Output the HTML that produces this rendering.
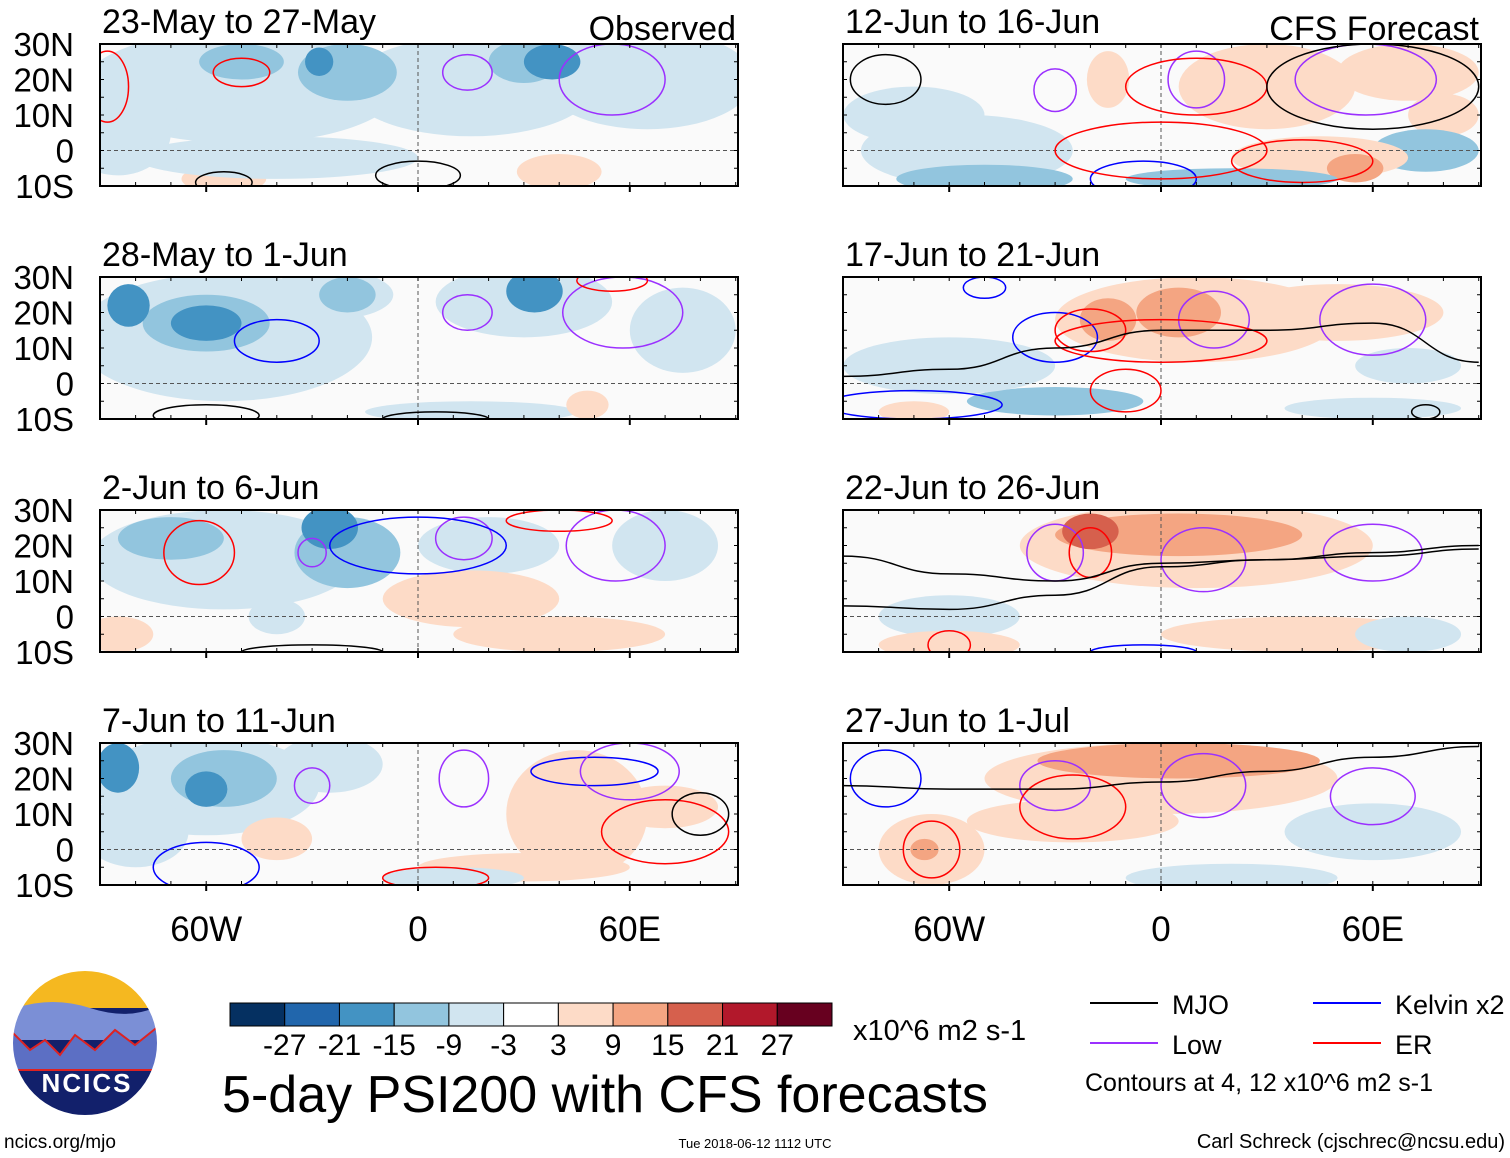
<!DOCTYPE html>
<html><head><meta charset="utf-8"><style>
body{margin:0;background:#fff;font-family:"Liberation Sans",sans-serif}
svg{display:block}
</style></head><body>
<svg id="fig" width="1510" height="1158" viewBox="0 0 1510 1158" xmlns="http://www.w3.org/2000/svg">
<defs id="defs"></defs>
<g id="panels"></g>
<g id="legend"></g>
</svg>
<script>
const panelTitles = ["23-May to 27-May","28-May to 1-Jun","2-Jun to 6-Jun","7-Jun to 11-Jun","12-Jun to 16-Jun","17-Jun to 21-Jun","22-Jun to 26-Jun","27-Jun to 1-Jul"];
const latTicks = ["30N","20N","10N","0","10S"];
const latTickVals = [30,20,10,0,-10];
const lonTicks = ["60W","0","60E"];
const lonTickVals = [-60,0,60];
const levelColors = ["#053061","#2166ac","#4393c3","#92c5de","#d1e5f0","#ffffff","#fddbc7","#f4a582","#d6604d","#b2182b","#67001f"];
const cbarLabels = ["-27","-21","-15","-9","-3","3","9","15","21","27"];
// blobs: [lon, lat, rxDeg, ryDeg, levelIndex]
const shade0 = [[-50,18,45,16,4],[15,18,35,14,4],[65,20,30,14,4],[-85,5,15,12,4],[-20,22,14,8,3],[-50,25,12,5,3],[30,25,10,6,3],[38,25,8,5,2],[-28,25,4,4,2],[40,-6,12,5,6],[-55,-8,12,4,6],[-78,15,10,12,4],[-40,-2,40,6,4]];
const shade1 = [[-55,13,42,18,4],[-60,17,18,8,3],[-60,17,10,5,2],[-82,22,6,6,2],[-25,25,18,7,4],[30,23,25,10,4],[33,26,8,6,2],[-20,25,8,5,3],[15,-8,30,3,4],[48,-6,6,4,6],[75,15,15,12,4]];
const shade2 = [[-55,16,38,14,4],[-20,18,15,10,3],[-25,25,8,6,2],[-70,22,15,6,3],[20,20,20,8,4],[15,5,25,8,6],[40,-5,30,5,6],[-85,-5,10,5,6],[-40,0,8,5,4],[70,20,15,10,4]];
const shade3 = [[-60,18,32,14,4],[-55,20,15,8,3],[-60,17,6,5,2],[-85,23,6,7,2],[-25,24,15,8,4],[45,10,20,18,6],[70,12,15,6,6],[-80,5,15,10,4],[-40,3,10,6,6],[30,-5,30,4,6],[10,-8,20,3,4]];
const shade4 = [[-55,0,30,10,4],[-50,-8,25,4,3],[30,18,25,12,6],[-15,20,6,8,6],[70,22,20,8,6],[80,10,10,6,6],[75,0,15,6,3],[45,-2,25,6,6],[55,-5,8,4,7],[20,-8,30,3,3],[-70,10,20,8,4]];
const shade5 = [[10,18,40,12,6],[-15,18,8,6,7],[5,20,12,7,7],[-30,-5,25,4,3],[60,-7,25,3,4],[50,20,30,8,6],[70,5,15,5,4],[-70,-8,10,3,6],[-60,5,30,8,4]];
const shade6 = [[10,20,50,12,6],[5,23,35,6,7],[-20,24,8,5,8],[-60,0,20,6,4],[40,-5,40,5,6],[-60,-8,20,4,6],[70,-5,15,5,4]];
const shade7 = [[0,20,50,10,6],[5,25,40,5,7],[-25,8,30,6,6],[-65,0,15,10,6],[-67,0,4,3,7],[60,5,25,8,4],[20,-8,30,4,4]];
const shadeData = [shade0,shade1,shade2,shade3,shade4,shade5,shade6,shade7];
// contours: [lon, lat, rxDeg, ryDeg, type]  type 0=MJO,1=Low,2=Kelvin,3=ER
const cont0 = [[-50,22,8,4,3],[14,22,7,5,1],[55,20,15,10,1],[-88,18,6,10,3],[0,-7,12,4,0],[-55,-9,8,3,0]];
const cont1 = [[-40,12,12,6,2],[14,20,7,5,1],[58,20,17,10,1],[-60,-9,15,3,0],[5,-10,15,2,0],[55,29,10,3,3]];
const cont2 = [[-62,18,10,9,3],[-30,18,4,4,1],[13,22,8,6,1],[0,20,25,8,2],[56,20,14,10,1],[40,27,15,3,3],[-30,-10,20,2,0]];
const cont3 = [[-30,18,5,5,1],[13,20,7,8,1],[50,22,18,4,2],[60,22,14,8,1],[70,5,18,9,3],[80,10,8,6,0],[-60,-5,15,7,2],[5,-8,15,3,3]];
const cont4 = [[-78,20,10,7,0],[-30,17,6,6,1],[10,20,8,8,1],[10,18,20,8,3],[58,20,20,10,1],[60,18,30,12,0],[40,-3,20,6,3],[-5,-8,15,5,2],[0,0,30,8,3]];
const cont5 = [[-50,27,6,3,2],[-30,13,12,7,2],[-20,15,10,6,3],[15,18,10,8,1],[0,12,30,6,3],[60,18,15,10,1],[-10,-2,10,6,3],[-70,-6,25,4,2],[75,-8,4,2,0]];
const cont6 = [[-30,18,8,8,1],[-20,18,6,7,3],[12,16,12,9,1],[60,18,14,8,1],[-60,-8,6,4,3],[-5,-10,15,2,2]];
const cont7 = [[-78,20,10,8,2],[-30,18,10,7,1],[-25,12,15,9,3],[12,18,12,9,1],[60,15,12,8,1],[-65,0,8,8,3]];
const contData = [cont0,cont1,cont2,cont3,cont4,cont5,cont6,cont7];
const contColors = ["#000000","#9b30ff","#0000ff","#ff0000"];
// MJO line latitudes at these longitudes, for panels 6-8
const mjoLons = [-90,-60,-30,0,30,60,90];
const mjoLine5 = [2,4,10,15,15,17,6];
const mjoLine6a = [17,12,10,15,16,18,20];
const mjoLine6b = [3,2,6,14,16,17,19];
const mjoLine7 = [18,17,17,19,22,26,29];
const mjoLines = [[],[],[],[],[],[mjoLine5],[mjoLine6a,mjoLine6b],[mjoLine7]];

const NS="http://www.w3.org/2000/svg";
const panelsG=document.getElementById("panels"), defs=document.getElementById("defs");
function el(tag,attrs,parent){const e=document.createElementNS(NS,tag);for(const k in attrs)e.setAttribute(k,attrs[k]);parent.appendChild(e);return e;}
const PW=638, PH=142, pxDeg=3.53;
const lefts=[100,843], tops=[44,277,510,743];
for(let p=0;p<8;p++){
  const col=p<4?0:1,row=p%4;
  const x0=lefts[col],y0=tops[row];
  const xOf=lon=>x0+318+lon*pxDeg;
  const yOf=lat=>y0+(30-lat)*PH/40;
  const g=el("g",{},panelsG);
  
  
  const cp=el("clipPath",{id:"cp"+p},defs);
  el("rect",{x:x0,y:y0,width:PW,height:PH},cp);
  const inner=el("g",{"clip-path":"url(#cp"+p+")"},g);
  el("rect",{x:x0,y:y0,width:PW,height:PH,fill:"#fafafa"},inner);
  shadeData[p].forEach(b=>{
    const e=el("ellipse",{cx:xOf(b[0]),cy:yOf(b[1]),rx:b[2]*pxDeg,ry:b[3]*PH/40,fill:levelColors[b[4]]},inner);
    
    
  });
  el("line",{x1:x0,x2:x0+PW,y1:yOf(0),y2:yOf(0),stroke:"#555","stroke-dasharray":"4,3","stroke-width":1},inner);
  el("line",{x1:xOf(0),x2:xOf(0),y1:y0,y2:y0+PH,stroke:"#555","stroke-dasharray":"4,3","stroke-width":1},inner);
  contData[p].forEach(c=>{
    const e=el("ellipse",{cx:xOf(c[0]),cy:yOf(c[1]),rx:c[2]*pxDeg,ry:c[3]*PH/40,fill:"none",stroke:contColors[c[4]],"stroke-width":1.5},inner);
    
    
  });
  mjoLines[p].forEach(line=>{
    let d="";
    line.forEach((lat,i)=>{
      const x=xOf(mjoLons[i]),y=yOf(lat);
      if(i==0)d+="M"+x+" "+y;
      else{const px=xOf(mjoLons[i-1]),py=yOf(line[i-1]);const mx=(px+x)/2;d+=" C"+mx+" "+py+" "+mx+" "+y+" "+x+" "+y;}
    });
    const e=el("path",{d:d,fill:"none",stroke:"#000","stroke-width":1.5},inner);
    
    
  });
  el("rect",{x:x0,y:y0,width:PW,height:PH,fill:"none",stroke:"#000","stroke-width":2},g);
  for(let lon=-90;lon<=90;lon+=10){
    el("line",{x1:xOf(lon),x2:xOf(lon),y1:y0,y2:y0+4,stroke:"#000"},g);
    el("line",{x1:xOf(lon),x2:xOf(lon),y1:y0+PH,y2:y0+PH-4,stroke:"#000"},g);
  }
  for(let lat=-10;lat<=30;lat+=5){
    el("line",{x1:x0,x2:x0+4,y1:yOf(lat),y2:yOf(lat),stroke:"#000"},g);
    el("line",{x1:x0+PW,x2:x0+PW-4,y1:yOf(lat),y2:yOf(lat),stroke:"#000"},g);
  }
  lonTickVals.forEach(l=>{el("line",{x1:xOf(l),x2:xOf(l),y1:y0+PH,y2:y0+PH+6,stroke:"#000","stroke-width":2},g);});
  const t=el("text",{x:x0+2,y:y0-11,"font-size":34},g);t.textContent=panelTitles[p];
  
  
  if(row==0){const s=el("text",{x:x0+PW-2,y:y0-4,"font-size":34,"text-anchor":"end"},g);s.textContent=col==0?"Observed":"CFS Forecast";
    }
  if(col==0){latTickVals.forEach((v,i)=>{const tt=el("text",{x:74,y:yOf(v)+12,"font-size":33,"text-anchor":"end"},g);tt.textContent=latTicks[i];
    });}
  if(row==3){lonTickVals.forEach((v,i)=>{const tt=el("text",{x:xOf(v),y:941,"font-size":35,"text-anchor":"middle"},g);tt.textContent=lonTicks[i];
    });}
}
const lg=document.getElementById("legend");
const cbX=230,cbW=602/11;
levelColors.forEach((c,i)=>{const r=el("rect",{x:cbX+i*cbW,y:1003,width:cbW,height:23,fill:c,stroke:"#000","stroke-width":1},lg);
  });
cbarLabels.forEach((s,i)=>{const t=el("text",{x:cbX+(i+1)*cbW,y:1055,"font-size":30,"text-anchor":"middle"},lg);t.textContent=s;
  });
function txt(x,y,s,size,anchor,name,weight){const t=el("text",{x:x,y:y,"font-size":size,"text-anchor":anchor||"start","font-weight":weight||"normal"},lg);t.textContent=s;return t;}
txt(853,1040,"x10^6 m2 s-1",29,"start","colorbar-units");
txt(605,1112,"5-day PSI200 with CFS forecasts",52,"middle","main-title");
const items=[[1090,1003,"MJO","#000"],[1090,1043,"Low","#9b30ff"],[1313,1003,"Kelvin x2","#0000ff"],[1313,1043,"ER","#ff0000"]];
items.forEach(it=>{el("line",{x1:it[0],x2:it[0]+68,y1:it[1],y2:it[1],stroke:it[3],"stroke-width":2},lg);txt(it[0]+82,it[1]+11,it[2],27,"start","legend-entry");});
txt(1085,1091,"Contours at 4, 12 x10^6 m2 s-1",25,"start","contour-note");
txt(4,1148,"ncics.org/mjo",19,"start","site-url");
txt(755,1148,"Tue 2018-06-12 1112 UTC",13,"middle","timestamp");
txt(1505,1148,"Carl Schreck (cjschrec@ncsu.edu)",20,"end","author");
const logo=el("g",{},lg);
const lcp=el("clipPath",{id:"lc"},defs);el("circle",{cx:85,cy:1043,r:73},lcp);
const lgi=el("g",{"clip-path":"url(#lc)"},logo);
el("rect",{x:10,y:968,width:150,height:150,fill:"#12206b"},lgi);
el("rect",{x:10,y:968,width:150,height:40,fill:"#f5b820"},lgi);
el("path",{d:"M10 1010 Q50 995 90 1008 T160 1005 L160 1040 L10 1040Z",fill:"#7b8fd6"},lgi);
el("path",{d:"M10 1030 L30 1050 L45 1040 L60 1055 L75 1035 L95 1050 L115 1030 L135 1045 L160 1025 L160 1070 L10 1070Z",fill:"#5c6fc4",stroke:"#d22","stroke-width":2},lgi);
el("circle",{cx:85,cy:1043,r:73,fill:"none",stroke:"#fff","stroke-width":2},logo);
const lt=el("text",{x:87,y:1092,"font-size":26,"font-weight":"bold",fill:"#fff","text-anchor":"middle","letter-spacing":"2"},logo);lt.textContent="NCICS";
</script>
</body></html>
